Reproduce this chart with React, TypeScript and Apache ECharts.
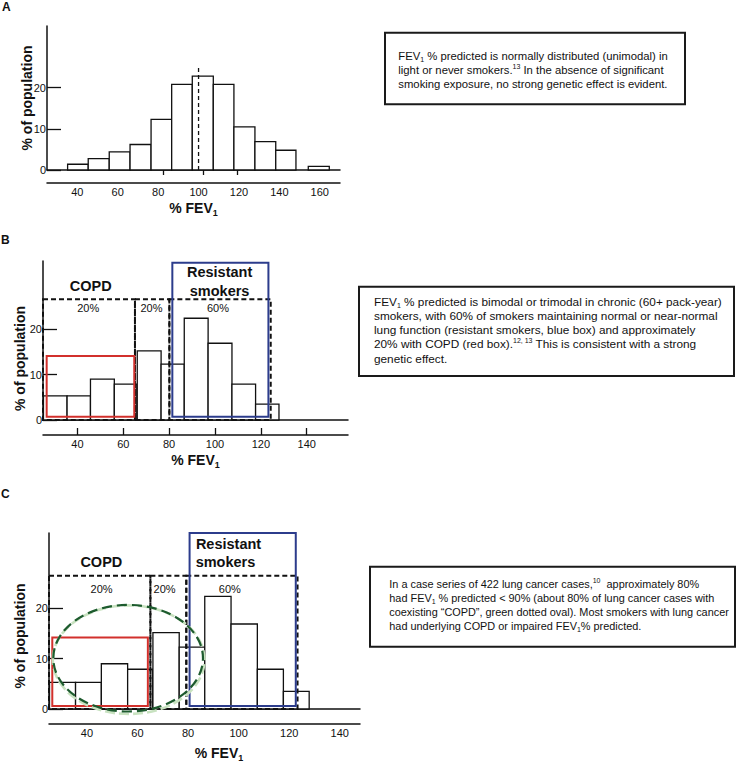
import React, { useEffect, useRef } from 'react';
import * as echarts from 'echarts';

const FONT = '"Liberation Sans", Arial, Helvetica, sans-serif';
const INK = '#111';

// ---------- Panel A: light / never smokers ----------
const aBinStart = [35.2, 45.4, 55.8, 66.1, 76.5, 86.7, 96.9, 107.3, 117.5, 127.9, 138.2, 154.3];
const aBinEnd = [45.4, 55.8, 66.1, 76.5, 86.7, 96.9, 107.3, 117.5, 127.9, 138.2, 148.2, 164.7];
const aPct = [1.4, 2.75, 4.4, 6.2, 12.3, 20.8, 22.8, 20.8, 10.5, 6.9, 4.8, 0.9];
const aMedianX = [100, 100];
const aMedianY = [0, 25];
const aBaseTicks = [82.4, 102.2, 119.0];
const aXTicks = [40, 60, 80, 100, 120, 140, 160];

// ---------- Panels B and C: chronic smokers ----------
const sBinStart = [25.2, 35.5, 45.7, 56.1, 66.1, 76.5, 86.6, 97.0, 107.4, 117.7];
const sBinEnd = [35.5, 45.7, 56.1, 65.9, 76.5, 86.6, 97.0, 107.4, 117.7, 127.9];
const sPct = [5.3, 5.3, 9.0, 7.9, 15.2, 12.3, 22.4, 16.9, 7.9, 3.5];
const bcXTicks = [40, 60, 80, 100, 120, 140];
const yTicks = [0, 10, 20];

// group regions (dashed)
const bRegionStart = [25, 65.1, 80.1];
const bRegionEnd = [65.1, 80.1, 124.3];
const bRegionTop = 26.6;
const cRegionStart = [25, 65.1, 79.3];
const cRegionEnd = [65.1, 79.3, 123.3];
const cRegionTop = 26.5;

// COPD (red) and resistant smokers (blue) boxes: [x0, x1, y0, y1]
const bCopdBox = [26.6, 64.8, 0.7, 14.1];
const bResistBox = [81.4, 123.3, 0.7, 34.6];
const cCopdBox = [26.3, 64.1, 0.6, 14.2];
const cResistBox = [80.6, 122.6, 0.6, 35.0];

// annotation texts
const regionLabels = ['20%', '20%', '60%'];
const groupLabels = ['COPD', 'Resistant', 'smokers'];
const bRegionLabelX = [44.7, 72.3, 101.3];
const bRegionLabelY = [24.6, 24.6, 24.6];
const bGroupLabelX = [45.8, 102, 102];
const bGroupLabelY = [29.6, 32.5, 28.5];
const cRegionLabelX = [45.8, 70.7, 96.5];
const cRegionLabelY = [23.9, 23.9, 23.9];
const cGroupLabelX = [45.7, 96.0, 94.8];
const cGroupLabelY = [29.3, 32.8, 29.3];

// green oval (panel C): centre and radii in data units
const cOvalCenter = [56.3, 10.1];
const cOvalRadius = [29.6, 10.6];

// text boxes
const boxAText = [
  'FEV{sub|1} % predicted is normally distributed (unimodal) in',
  'light or never smokers.{sup|13} In the absence of significant',
  'smoking exposure, no strong genetic effect is evident.',
];
const boxBText = [
  'FEV{sub|1} % predicted is bimodal or trimodal in chronic (60+ pack-year)',
  'smokers, with 60% of smokers maintaining normal or near-normal',
  'lung function (resistant smokers, blue box) and approximately',
  '20% with COPD (red box).{sup|12, 13} This is consistent with a strong',
  'genetic effect.',
];
const boxCText = [
  'In a case series of 422 lung cancer cases,{sup|10}  approximately 80%',
  'had FEV{sub|1} % predicted < 90% (about 80% of lung cancer cases with',
  'coexisting \u201cCOPD\u201d, green dotted oval). Most smokers with lung cancer',
  'had underlying COPD or impaired FEV{sub|1}% predicted.',
];

const lineStyle = { color: INK, width: 1.5 };

function yAxisCfg(gridIndex: number, nameGap: number, namePad: number[]) {
  return {
    type: 'value', gridIndex, min: 0, max: 35,
    axisLine: { show: true, lineStyle },
    axisTick: { show: true, inside: true, length: 14, customValues: yTicks, lineStyle: { color: INK, width: 1.3 } },
    axisLabel: { customValues: yTicks, fontSize: 11, color: INK, margin: 1, fontFamily: FONT },
    splitLine: { show: false },
    name: '% of population', nameLocation: 'middle', nameGap, nameRotate: 90,
    nameMoveOverlap: false,
    nameTextStyle: { fontSize: 14, fontWeight: 'bold', color: INK, fontFamily: FONT, padding: namePad },
  };
}

function baseXAxis(gridIndex: number, max: number, ticks: number[] | null) {
  return {
    type: 'value', gridIndex, min: 25, max, position: 'bottom',
    axisLine: { show: true, onZero: false, lineStyle },
    axisTick: ticks
      ? { show: true, inside: false, length: 5, customValues: ticks, lineStyle: { color: INK, width: 1.3 } }
      : { show: false },
    axisLabel: { show: false },
    splitLine: { show: false },
  };
}

function lowerXAxis(gridIndex: number, max: number, labels: number[], showTicks: boolean, nameGap: number, padLeft: number) {
  return {
    type: 'value', gridIndex, min: 25, max, position: 'bottom', offset: 15,
    axisLine: { show: true, onZero: false, lineStyle },
    axisTick: showTicks
      ? { show: true, inside: true, length: 7, customValues: labels, lineStyle: { color: INK, width: 1.3 } }
      : { show: false },
    axisLabel: { customValues: labels, fontSize: 11, color: INK, margin: 3, fontFamily: FONT },
    splitLine: { show: false },
    name: '% FEV{s|1}', nameLocation: 'middle', nameGap,
    nameMoveOverlap: false,
    nameTextStyle: {
      fontSize: 14, fontWeight: 'bold', color: INK, fontFamily: FONT, lineHeight: 18,
      padding: [0, 0, 0, padLeft],
      rich: { s: { fontSize: 9, fontWeight: 'bold', lineHeight: 9, verticalAlign: 'bottom', fontFamily: FONT, color: INK } },
    },
  };
}

function barSeries(xi: number, yi: number, start: number[], end: number[], pct: number[]) {
  return {
    type: 'custom', xAxisIndex: xi, yAxisIndex: yi, silent: true, z: 2,
    data: start.map((s, i) => [s, end[i], pct[i]]),
    encode: { x: [0, 1], y: 2 },
    renderItem: (_p: any, api: any) => {
      const a = api.coord([api.value(0), api.value(2)]);
      const b = api.coord([api.value(1), 0]);
      return {
        type: 'rect',
        shape: { x: a[0], y: a[1], width: b[0] - a[0], height: b[1] - a[1] },
        style: { fill: '#fff', stroke: INK, lineWidth: 1.3 },
      };
    },
  };
}

function rectSeries(xi: number, yi: number, rows: number[][], style: any, z: number) {
  return {
    type: 'custom', xAxisIndex: xi, yAxisIndex: yi, silent: true, z,
    data: rows,
    encode: { x: [0, 1], y: [2, 3] },
    renderItem: (_p: any, api: any) => {
      const a = api.coord([api.value(0), api.value(3)]);
      const b = api.coord([api.value(1), api.value(2)]);
      return {
        type: 'rect',
        shape: { x: a[0], y: a[1], width: b[0] - a[0], height: b[1] - a[1] },
        style,
      };
    },
  };
}

function labelSeries(xi: number, yi: number, xs: number[], ys: number[], texts: string[], bold: boolean) {
  return {
    type: 'custom', xAxisIndex: xi, yAxisIndex: yi, silent: true, z: 5,
    data: xs.map((x, i) => [x, ys[i]]),
    encode: { x: 0, y: 1 },
    renderItem: (p: any, api: any) => {
      const c = api.coord([api.value(0), api.value(1)]);
      return {
        type: 'text', x: c[0], y: c[1],
        style: {
          text: texts[p.dataIndex], fill: INK, fontFamily: FONT,
          fontSize: bold ? 14.5 : 11, fontWeight: bold ? 'bold' : 'normal',
          align: 'center', verticalAlign: 'middle',
        },
      };
    },
  };
}

function textBox(x: number, y: number, w: number, h: number, tx: number, ty: number, lh: number, fs: number, lines: string[]) {
  const els: any[] = [
    { type: 'rect', shape: { x, y, width: w, height: h }, style: { fill: '#fff', stroke: '#1a1a1a', lineWidth: 2 }, silent: true },
  ];
  lines.forEach((t, i) => {
    els.push({
      type: 'text', x: tx, y: ty + i * lh, silent: true,
      style: {
        text: t, fontSize: fs, fontFamily: FONT, fill: INK, lineHeight: 14,
        align: 'left', verticalAlign: 'middle',
        rich: {
          sub: { fontSize: 7, lineHeight: 7, verticalAlign: 'bottom', fontFamily: FONT, fill: INK },
          sup: { fontSize: 7, lineHeight: 10, verticalAlign: 'top', fontFamily: FONT, fill: INK },
        },
      },
    });
  });
  return els;
}

export default function App() {
  const ref = useRef<HTMLDivElement>(null);
  useEffect(() => {
    document.body.style.margin = '0';
    const chart = echarts.init(ref.current!, null, { renderer: 'svg' });
    const option: any = {
      animation: false,
      backgroundColor: '#fff',
      textStyle: { fontFamily: FONT },
      grid: [
        { left: 47, top: 26, width: 293, height: 144 },
        { left: 43, top: 261, width: 305, height: 159 },
        { left: 49, top: 533, width: 311, height: 176 },
      ],
      xAxis: [
        baseXAxis(0, 170, aBaseTicks),
        { ...lowerXAxis(0, 170, aXTicks, false, 16, 0), offset: 13 },
        baseXAxis(1, 158, null),
        lowerXAxis(1, 158, bcXTicks, true, 16, 0),
        baseXAxis(2, 148, null),
        lowerXAxis(2, 148, bcXTicks, false, 20, 29),
      ],
      yAxis: [
        yAxisCfg(0, 13.5, [0, 0, 0, 0]),
        yAxisCfg(1, 15.8, [0, 36, 0, 0]),
        yAxisCfg(2, 22, [0, 30, 0, 0]),
      ],
      series: [
        // Panel A
        barSeries(0, 0, aBinStart, aBinEnd, aPct),
        {
          type: 'line', xAxisIndex: 0, yAxisIndex: 0, silent: true, z: 3,
          data: aMedianX.map((x, i) => [x, aMedianY[i]]),
          symbol: 'none', lineStyle: { color: INK, width: 1.3, type: [4, 3] },
        },
        // Panel B
        barSeries(2, 1, sBinStart, sBinEnd, sPct),
        rectSeries(2, 1, bRegionStart.map((s, i) => [s, bRegionEnd[i], 0, bRegionTop]),
          { fill: 'none', stroke: INK, lineWidth: 2, lineDash: [5, 3] }, 3),
        rectSeries(2, 1, [bCopdBox], { fill: 'none', stroke: '#d2302c', lineWidth: 2 }, 4),
        rectSeries(2, 1, [bResistBox], { fill: 'none', stroke: '#2c3c8c', lineWidth: 2 }, 4),
        labelSeries(2, 1, bRegionLabelX, bRegionLabelY, regionLabels, false),
        labelSeries(2, 1, bGroupLabelX, bGroupLabelY, groupLabels, true),
        // Panel C
        barSeries(4, 2, sBinStart, sBinEnd, sPct),
        rectSeries(4, 2, cRegionStart.map((s, i) => [s, cRegionEnd[i], 0, cRegionTop]),
          { fill: 'none', stroke: INK, lineWidth: 2, lineDash: [5, 3] }, 3),
        rectSeries(4, 2, [cCopdBox], { fill: 'none', stroke: '#d2302c', lineWidth: 2 }, 4),
        rectSeries(4, 2, [cResistBox], { fill: 'none', stroke: '#2c3c8c', lineWidth: 2 }, 4),
        labelSeries(4, 2, cRegionLabelX, cRegionLabelY, regionLabels, false),
        labelSeries(4, 2, cGroupLabelX, cGroupLabelY, groupLabels, true),
        {
          type: 'custom', xAxisIndex: 4, yAxisIndex: 2, silent: true, z: 6,
          data: [[cOvalCenter[0], cOvalCenter[1], cOvalRadius[0], cOvalRadius[1]]],
          encode: { x: 0, y: 1 },
          renderItem: (_p: any, api: any) => {
            const c = api.coord([api.value(0), api.value(1)]);
            const r = api.size([api.value(2), api.value(3)]);
            return {
              type: 'group',
              children: [
                {
                  type: 'ellipse', shape: { cx: c[0] + 0.5, cy: c[1] + 1.5, rx: r[0] + 1, ry: r[1] + 1 },
                  style: { fill: 'none', stroke: '#c8e2c0', lineWidth: 2.6, lineDash: [10, 4] },
                },
                {
                  type: 'ellipse', shape: { cx: c[0], cy: c[1], rx: r[0], ry: r[1] },
                  style: { fill: 'none', stroke: '#1d5b2e', lineWidth: 2.2, lineDash: [10, 5] },
                },
              ],
            };
          },
        },
      ],
      graphic: [
        { type: 'text', x: 2, y: 7, silent: true, style: { text: 'A', fontSize: 12, fontWeight: 'bold', fontFamily: FONT, fill: INK, verticalAlign: 'middle' } },
        { type: 'text', x: 1, y: 239.5, silent: true, style: { text: 'B', fontSize: 12, fontWeight: 'bold', fontFamily: FONT, fill: INK, verticalAlign: 'middle' } },
        { type: 'text', x: 1, y: 494, silent: true, style: { text: 'C', fontSize: 12, fontWeight: 'bold', fontFamily: FONT, fill: INK, verticalAlign: 'middle' } },
        ...textBox(385, 32.7, 300, 71.6, 398.3, 55.7, 13.9, 11.3, boxAText),
        ...textBox(359, 286.7, 375, 89.3, 374, 301.7, 14.2, 11.8, boxBText),
        ...textBox(370, 566.7, 365, 80, 389.3, 584.3, 13.8, 10.9, boxCText),
      ],
    };
    chart.setOption(option);
    return () => chart.dispose();
  }, []);
  return <div ref={ref} style={{ width: 736, height: 765 }} />;
}
